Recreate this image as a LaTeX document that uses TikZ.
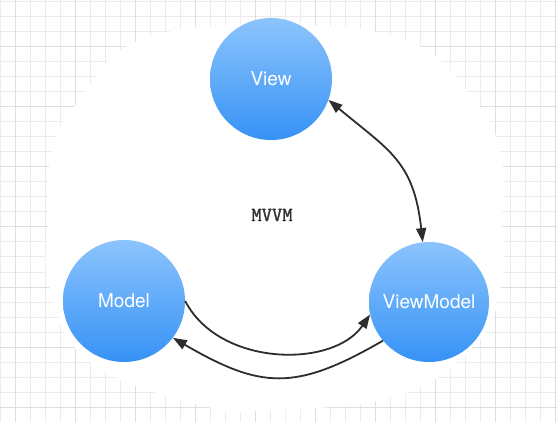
\documentclass[tikz,border=0pt]{standalone}
\usepackage{fontspec}
\newfontfamily\heros{TeX Gyre Heros}
\newfontfamily\mvvmfont{Latin Modern Mono}[FakeBold=1.6]
\usetikzlibrary{arrows.meta}
\definecolor{gridminor}{RGB}{236,236,236}
\definecolor{gridmajor}{RGB}{222,222,222}
\definecolor{bluetop}{RGB}{140,196,252}
\definecolor{bluebot}{RGB}{54,146,246}
\definecolor{arrowc}{RGB}{45,45,45}
\tikzset{
  bub/.style={circle, minimum size=122pt, inner sep=0pt, top color=bluetop, bottom color=bluebot, draw=none, text=white, font=\heros\fontsize{19}{22}\selectfont},
  conn/.style={draw=arrowc, line width=1.8pt, -{Triangle[length=14pt,width=10pt]}},
  conn2/.style={draw=arrowc, line width=1.8pt, {Triangle[length=14pt,width=10pt]}-{Triangle[length=14pt,width=10pt]}},
}
\begin{document}
\begin{tikzpicture}[x=1pt,y=-1pt]
\useasboundingbox (0,0) rectangle (557,422);
\fill[white] (0,0) rectangle (557,422);
\foreach \x in {0,15,...,555} \draw[gridminor, line width=1pt] (\x,0) -- (\x,422);
\foreach \y in {2,17,...,422} \draw[gridminor, line width=1pt] (0,\y) -- (557,\y);
\foreach \x in {15,75,...,555} \draw[gridmajor, line width=1pt] (\x,0) -- (\x,422);
\foreach \y in {47,107,...,422} \draw[gridmajor, line width=1pt] (0,\y) -- (557,\y);
\fill[white] plot[smooth cycle, tension=0.7] coordinates {(140,40) (275,25) (405,40) (470,95) (500,150) (502,220) (500,290) (475,345) (400,395) (275,410) (200,405) (90,362) (50,290) (48,220) (52,150) (80,100)};
\node[bub] (V) at (271,79) {View};
\node[bub] (M) at (124,301) {Model};
\node[bub, minimum size=120pt] (VM) at (429,302) {ViewModel};
\node[font=\mvvmfont\fontsize{20}{23}\selectfont, text=black!80] (T) at (272,215) {MVVM};
\draw[conn2] (V.-20) .. controls +(61,51) and +(-9,-81) .. (VM.96);
\draw[conn] (M.0) .. controls +(34,66) and +(-37,54) .. (VM.192);
\draw[conn] (VM.220) .. controls +(-88,51) and +(88,51) .. (M.323);
\end{tikzpicture}
\end{document}
